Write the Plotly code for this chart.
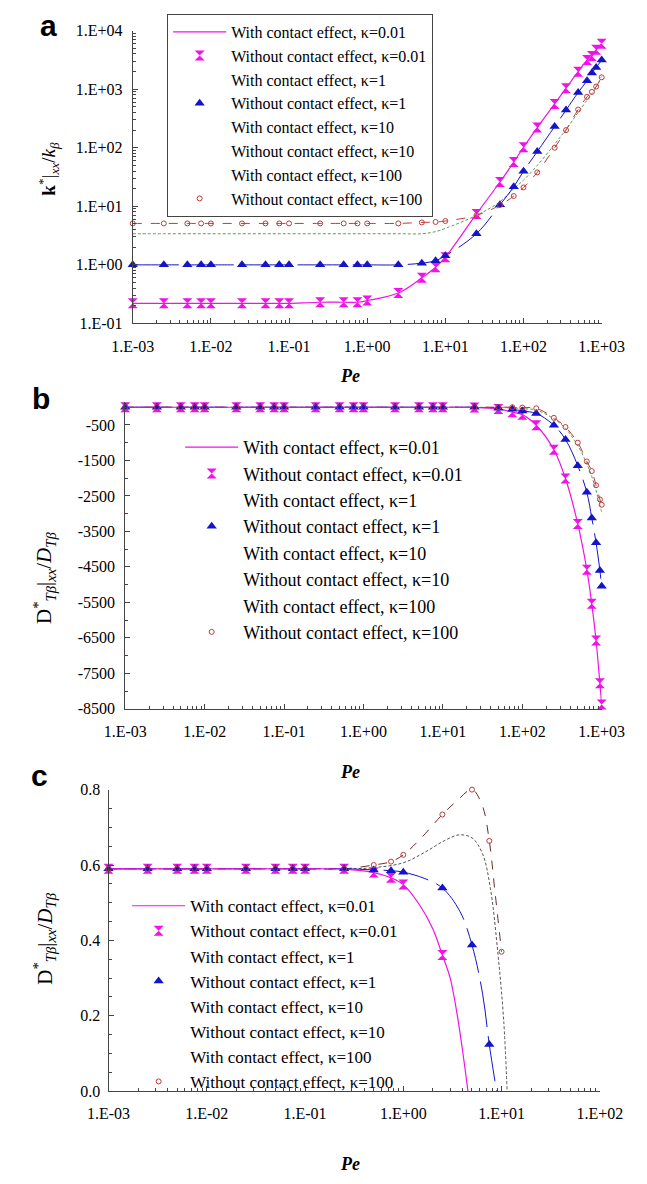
import plotly.graph_objects as go

# ---------------- data ----------------
# Panel a : k*|xx / k_beta
pe_a = [0.001, 0.0025, 0.005, 0.0075, 0.01, 0.025, 0.05, 0.075, 0.1, 0.25, 0.5, 0.75,
        1, 2.5, 5, 7.5, 10, 25, 50, 75, 100, 150, 250, 350, 500, 650, 750, 850, 1000]
a_with_k001 = [0.22, 0.22, 0.22, 0.22, 0.22, 0.22, 0.22, 0.22, 0.22, 0.23, 0.23, 0.23,
               0.245, 0.33, 0.6, 0.91, 1.35, 7.4, 26, 57, 102, 221, 560, 1040, 1990, 3140, 3680, 4730, 5970]
a_without_k001 = [0.22, 0.22, 0.22, 0.22, 0.22, 0.22, 0.22, 0.22, 0.22, 0.23, 0.23, 0.23,
                  0.245, 0.33, 0.6, 0.91, 1.35, 7.4, 26, 57, 102, 221, 560, 1040, 1990, 3140, 3680, 4730, 5970]
a_with_k1 = [1.0, 1.0, 1.0, 1.0, 1.0, 1.0, 1.0, 1.0, 1.0, 1.0, 1.0, 1.0,
             1.0, 1.0, 1.07, 1.18, 1.43, 3.4, 10.6, 21.6, 39.7, 86, 230, 440, 880, 1400, 1900, 2340, 3150]
a_without_k1 = [1.0, 1.0, 1.0, 1.0, 1.0, 1.0, 1.0, 1.0, 1.0, 1.0, 1.0, 1.0,
                1.0, 1.0, 1.07, 1.18, 1.43, 3.4, 10.6, 21.6, 39.7, 86, 230, 440, 880, 1400, 1900, 2340, 3150]
a_with_k10 = [3.4, 3.4, 3.4, 3.4, 3.4, 3.4, 3.4, 3.4, 3.4, 3.4, 3.4, 3.4,
              3.4, 3.4, 3.4, 3.7, 4.2, 7.0, 12, 20, 28, 50, 115, 205, 405, 650, 840, 1070, 1680]
a_with_k100 = [5.1, 5.1, 5.1, 5.1, 5.1, 5.1, 5.1, 5.1, 5.1, 5.1, 5.1, 5.1,
               5.1, 5.1, 5.3, 5.4, 5.6, 7.0, 10.5, 15, 21, 38, 100, 200, 450, 740, 900, 1110, 1600]
a_without_k100 = [5.1, 5.1, 5.1, 5.1, 5.1, 5.1, 5.1, 5.1, 5.1, 5.1, 5.1, 5.1,
                  5.1, 5.1, 5.3, 5.4, 5.6, 7.0, 10.5, 15, 21, 38, 100, 200, 450, 740, 900, 1110, 1600]

# Panel b : D*_Tb|xx / D_Tb
pe_b = [0.001, 0.0025, 0.005, 0.0075, 0.01, 0.025, 0.05, 0.075, 0.1, 0.25, 0.5, 0.75,
        1, 2.5, 5, 7.5, 10, 25, 50, 75, 100, 150, 250, 350, 500, 650, 750, 850, 950, 1000]
b_with_k001 = [-2, -2, -2, -2, -2, -2, -2, -2, -2, -2, -2, -2, -2, -2, -2, -2, -2, -8,
               -50, -140, -210, -510, -1200, -2010, -3290, -4580, -5540, -6575, -7780, -8380]
b_without_k001 = [-2, -2, -2, -2, -2, -2, -2, -2, -2, -2, -2, -2, -2, -2, -2, -2, -2, -8,
                  -50, -140, -210, -510, -1200, -2010, -3290, -4580, -5540, -6575, -7780, -8380]
b_with_k1 = [-1, -1, -1, -1, -1, -1, -1, -1, -1, -1, -1, -1, -1, -1, -1, -1, -1, -4,
             -30, -60, -110, -175, -510, -910, -1650, -2400, -3120, -3820, -4600, -5050]
b_without_k1 = [-1, -1, -1, -1, -1, -1, -1, -1, -1, -1, -1, -1, -1, -1, -1, -1, -1, -4,
                -30, -60, -110, -175, -510, -910, -1650, -2400, -3120, -3820, -4600, -5050]
b_with_k10 = [-1, -1, -1, -1, -1, -1, -1, -1, -1, -1, -1, -1, -1, -1, -1, -1, -1, -2,
              -8, -20, -40, -80, -330, -600, -1080, -1600, -1950, -2350, -2750, -2960]
b_with_k100 = [0, 0, 0, 0, 0, 0, 0, 0, 0, 0, 0, 0, 0, 0, 0, 0, 0, 0,
               0, 0, -10, -30, -300, -560, -1000, -1530, -1800, -2200, -2600, -2750]
b_without_k100 = [0, 0, 0, 0, 0, 0, 0, 0, 0, 0, 0, 0, 0, 0, 0, 0, 0, 0,
                  0, 0, -10, -30, -300, -560, -1000, -1530, -1800, -2200, -2600, -2750]

# Panel c : D*_Tb|xx / D_Tb (low Pe)
pe_c_pts = [0.001, 0.0025, 0.005, 0.0075, 0.01, 0.025, 0.05, 0.075, 0.1, 0.25, 0.5, 0.75,
            1, 2.5, 5, 7.5, 10]
c_without_k001 = [0.59, 0.59, 0.59, 0.59, 0.59, 0.59, 0.59, 0.59, 0.59, 0.59, 0.58, 0.566,
                  0.548, 0.361]
c_without_k1 = [0.59, 0.59, 0.59, 0.59, 0.59, 0.59, 0.59, 0.59, 0.59, 0.59, 0.587, 0.585,
                0.581, 0.539, 0.388, 0.124]
c_without_k100 = [0.59, 0.59, 0.59, 0.59, 0.59, 0.59, 0.59, 0.59, 0.59, 0.59, 0.600, 0.609,
                  0.627, 0.734, 0.80, 0.664, 0.37]

pe_c_k001_line = [0.001, 0.01, 0.1, 0.25, 0.5, 0.75, 1, 1.5, 2, 2.5, 3, 3.5, 4, 4.55]
c_with_k001 = [0.59, 0.59, 0.59, 0.589, 0.58, 0.566, 0.548, 0.49, 0.43, 0.361, 0.30, 0.21, 0.11, 0.0]
pe_c_k1_line = [0.001, 0.01, 0.1, 0.25, 0.5, 0.75, 1, 1.66, 2.5, 3.77, 5, 6.4, 7.5, 8.9]
c_with_k1 = [0.59, 0.59, 0.59, 0.59, 0.587, 0.585, 0.581, 0.564, 0.539, 0.477, 0.388, 0.26, 0.124, 0.0]
pe_c_k10_line = [0.001, 0.01, 0.1, 0.25, 0.5, 1, 1.66, 2.6, 3.7, 5, 6.4, 7.7, 9.2, 10.5, 11.4]
c_with_k10 = [0.59, 0.59, 0.59, 0.59, 0.593, 0.606, 0.634, 0.664, 0.68, 0.672, 0.63, 0.538, 0.363, 0.19, 0.0]
pe_c_k100_line = [0.001, 0.01, 0.1, 0.25, 0.5, 0.75, 1, 1.5, 2.5, 3.5, 5, 6.4, 7.5, 8.5, 10]
c_with_k100 = [0.59, 0.59, 0.59, 0.59, 0.600, 0.609, 0.627, 0.67, 0.734, 0.77, 0.80, 0.756, 0.664, 0.538, 0.37]

# tick labels
x_tickvals_a = [0.001, 0.01, 0.1, 1, 10, 100, 1000]
x_ticktext_a = ["1.E-03", "1.E-02", "1.E-01", "1.E+00", "1.E+01", "1.E+02", "1.E+03"]
y_tickvals_a = [0.1, 1, 10, 100, 1000, 10000]
y_ticktext_a = ["1.E-01", "1.E+00", "1.E+01", "1.E+02", "1.E+03", "1.E+04"]
y_tickvals_b = [-500, -1500, -2500, -3500, -4500, -5500, -6500, -7500, -8500]
y_ticktext_b = ["-500", "-1500", "-2500", "-3500", "-4500", "-5500", "-6500", "-7500", "-8500"]
x_tickvals_c = [0.001, 0.01, 0.1, 1, 10, 100]
x_ticktext_c = ["1.E-03", "1.E-02", "1.E-01", "1.E+00", "1.E+01", "1.E+02"]
y_tickvals_c = [0, 0.2, 0.4, 0.6, 0.8]
y_ticktext_c = ["0.0", "0.2", "0.4", "0.6", "0.8"]

names = ["With contact effect, \u03ba=0.01", "Without contact effect, \u03ba=0.01",
         "With contact effect, \u03ba=1", "Without contact effect, \u03ba=1",
         "With contact effect, \u03ba=10", "Without contact effect, \u03ba=10",
         "With contact effect, \u03ba=100", "Without contact effect, \u03ba=100"]

# ---------------- styles ----------------
W, H = 647, 1184
MAG = "#f012e8"
BLUE = "#1414c8"
GREEN = "#5f9a5f"
RED = "#c03a3a"
SERIF = "Liberation Serif"

fig = go.Figure()


def add_panel(xa, ya, leg, lines, markers, dash_k100_color, k10_color):
    xk, yk = lines["k10"]
    fig.add_trace(go.Scatter(x=xk, y=yk, mode="lines", line=dict(color=k10_color, width=1, dash="3px,2px", shape="spline"),
                             xaxis=xa, yaxis=ya, showlegend=False, hoverinfo="skip"))
    xk, yk = lines["k100"]
    fig.add_trace(go.Scatter(x=xk, y=yk, mode="lines", line=dict(color=dash_k100_color, width=1, dash="9px,9px", shape="spline"),
                             xaxis=xa, yaxis=ya, showlegend=False, hoverinfo="skip"))
    xk, yk = lines["k1"]
    fig.add_trace(go.Scatter(x=xk, y=yk, mode="lines", line=dict(color=BLUE, width=1, dash="46px,9px", shape="spline"),
                             xaxis=xa, yaxis=ya, showlegend=False, hoverinfo="skip"))
    xk, yk = lines["k001"]
    fig.add_trace(go.Scatter(x=xk, y=yk, mode="lines", name=names[0], legendrank=1, legend=leg,
                             line=dict(color=MAG, width=1.2, shape="spline"),
                             xaxis=xa, yaxis=ya))
    xk, yk = markers["k001"]
    fig.add_trace(go.Scatter(x=xk, y=yk, mode="markers", name=names[1], legendrank=2, legend=leg,
                             marker=dict(symbol="hourglass", size=10, color=MAG, line=dict(width=0)),
                             xaxis=xa, yaxis=ya, cliponaxis=False))
    xk, yk = markers["k1"]
    fig.add_trace(go.Scatter(x=xk, y=yk, mode="markers", name=names[3], legendrank=4, legend=leg,
                             marker=dict(symbol="triangle-up", size=9, color=BLUE, line=dict(width=0)),
                             xaxis=xa, yaxis=ya, cliponaxis=False))
    xk, yk = markers["k100"]
    fig.add_trace(go.Scatter(x=xk, y=yk, mode="markers", name=names[7], legendrank=8, legend=leg,
                             marker=dict(symbol="circle-open", size=5, color=RED, line=dict(width=1)),
                             xaxis=xa, yaxis=ya, cliponaxis=False))
    for rank in (3, 5, 6, 7):
        fig.add_trace(go.Scatter(x=[None], y=[None], mode="lines", name=names[rank - 1], legendrank=rank,
                                 legend=leg, line=dict(color="rgba(0,0,0,0)", width=1),
                                 xaxis=xa, yaxis=ya))


add_panel("x", "y", "legend",
          {"k10": (pe_a, a_with_k10), "k100": (pe_a, a_with_k100), "k1": (pe_a, a_with_k1), "k001": (pe_a, a_with_k001)},
          {"k001": (pe_a, a_without_k001), "k1": (pe_a, a_without_k1), "k100": (pe_a, a_without_k100)},
          RED, GREEN)
add_panel("x2", "y2", "legend2",
          {"k10": (pe_b, b_with_k10), "k100": (pe_b, b_with_k100), "k1": (pe_b, b_with_k1), "k001": (pe_b, b_with_k001)},
          {"k001": (pe_b, b_without_k001), "k1": (pe_b, b_without_k1), "k100": (pe_b, b_without_k100)},
          RED, GREEN)
add_panel("x3", "y3", "legend3",
          {"k10": (pe_c_k10_line, c_with_k10), "k100": (pe_c_k100_line, c_with_k100),
           "k1": (pe_c_k1_line, c_with_k1), "k001": (pe_c_k001_line, c_with_k001)},
          {"k001": (pe_c_pts[:len(c_without_k001)], c_without_k001),
           "k1": (pe_c_pts[:len(c_without_k1)], c_without_k1),
           "k100": (pe_c_pts[:len(c_without_k100)], c_without_k100)},
          "#6a2c2c", "#555555")


def px_x(p):
    return p / W


def px_y(p):
    return 1 - p / H


tickfont = dict(family=SERIF, size=16, color="black")
axis_common = dict(showline=True, linecolor="#444", linewidth=1, ticks="inside", ticklen=5, tickcolor="#444",
                   showgrid=False, zeroline=False, tickfont=tickfont, tickmode="array")
minor_log = dict(ticks="inside", ticklen=3, tickcolor="#444", dtick="D1", showgrid=False)

fig.update_layout(
    width=W, height=H, margin=dict(l=0, r=0, t=0, b=0),
    paper_bgcolor="white", plot_bgcolor="white",
    font=dict(family=SERIF, color="black", size=16),
    xaxis=dict(axis_common, type="log", range=[-3, 3], domain=[px_x(119), px_x(623)], anchor="y",
               tickvals=x_tickvals_a, ticktext=x_ticktext_a, minor=minor_log, ticklabelstandoff=8),
    yaxis=dict(axis_common, type="log", range=[-1, 4], domain=[px_y(320), px_y(23)], anchor="x",
               tickvals=y_tickvals_a, ticktext=y_ticktext_a, minor=minor_log, ticklabelstandoff=6),
    xaxis2=dict(axis_common, type="log", range=[-3, 3], domain=[px_x(111), px_x(623)], anchor="y2",
                tickvals=x_tickvals_a, ticktext=x_ticktext_a, minor=minor_log, ticklabelstandoff=8),
    yaxis2=dict(axis_common, range=[-8500, 150], domain=[px_y(711), px_y(399.6)], anchor="x2",
                tickvals=y_tickvals_b, ticktext=y_ticktext_b,
                minor=dict(ticks="inside", ticklen=3, tickcolor="#444", tick0=0, dtick=500, showgrid=False),
                ticklabelstandoff=6),
    xaxis3=dict(axis_common, type="log", range=[-3, 2], domain=[px_x(93), px_x(621)], anchor="y3",
                tickvals=x_tickvals_c, ticktext=x_ticktext_c, minor=minor_log, ticklabelstandoff=8),
    yaxis3=dict(axis_common, range=[0, 0.8], domain=[px_y(1099), px_y(793)], anchor="x3",
                tickvals=y_tickvals_c, ticktext=y_ticktext_c,
                minor=dict(ticks="inside", ticklen=3, tickcolor="#444", tick0=0, dtick=0.05, showgrid=False),
                ticklabelstandoff=4),
    legend=dict(x=px_x(156), y=px_y(6), xanchor="left", yanchor="top", bgcolor="white",
                bordercolor="#444", borderwidth=1, font=dict(family=SERIF, size=16, color="black"),
                itemwidth=53, tracegroupgap=0, traceorder="normal"),
    legend2=dict(x=px_x(170), y=px_y(427), xanchor="left", yanchor="top", bgcolor="rgba(0,0,0,0)",
                 borderwidth=0, font=dict(family=SERIF, size=18, color="black"),
                 itemwidth=53, tracegroupgap=0, traceorder="normal"),
    legend3=dict(x=px_x(113), y=px_y(893), xanchor="left", yanchor="top", bgcolor="rgba(0,0,0,0)",
                 borderwidth=0, font=dict(family=SERIF, size=17, color="black"),
                 itemwidth=53, tracegroupgap=0, traceorder="normal"),
)

# annotations: panel letters, axis titles
ann = []
letter_font = dict(family="Liberation Sans", size=30, color="black")
for txt, x, y in (("<b>a</b>", 29, 18), ("<b>b</b>", 20, 396), ("<b>c</b>", 19, 779)):
    ann.append(dict(text=txt, x=px_x(x), y=px_y(y), xref="paper", yref="paper", showarrow=False,
                    xanchor="center", yanchor="middle", font=letter_font))
pe_font = dict(family=SERIF, size=18, color="black")
for x, y in ((352, 373), (353, 775), (352, 1173)):
    ann.append(dict(text="<b><i>Pe</i></b>", x=px_x(x), y=px_y(y), xref="paper", yref="paper", showarrow=False,
                    xanchor="center", yanchor="middle", font=pe_font))
ylab_font = dict(family=SERIF, size=19, color="black")
ann.append(dict(text="<b>k</b><sup>*</sup>|<sub><i>xx</i></sub>/<i>k<sub>\u03b2</sub></i>", x=px_x(29), y=px_y(163),
                xref="paper", yref="paper", showarrow=False, textangle=-90,
                xanchor="center", yanchor="middle", font=ylab_font))
dlab = "D<sup>*</sup><sub><i>T\u03b2</i></sub>|<sub><i>xx</i></sub>/<i>D<sub>T\u03b2</sub></i>"
ann.append(dict(text=dlab, x=px_x(24), y=px_y(578), xref="paper", yref="paper", showarrow=False, textangle=-90,
                xanchor="center", yanchor="middle", font=dict(family=SERIF, size=21, color="black")))
ann.append(dict(text=dlab, x=px_x(24), y=px_y(944), xref="paper", yref="paper", showarrow=False, textangle=-90,
                xanchor="center", yanchor="middle", font=dict(family=SERIF, size=21, color="black")))
fig.update_layout(annotations=ann)

fig.write_html("out.html", config={"displayModeBar": False},
               post_script="document.body.style.margin='0';document.body.style.overflow='hidden';")
